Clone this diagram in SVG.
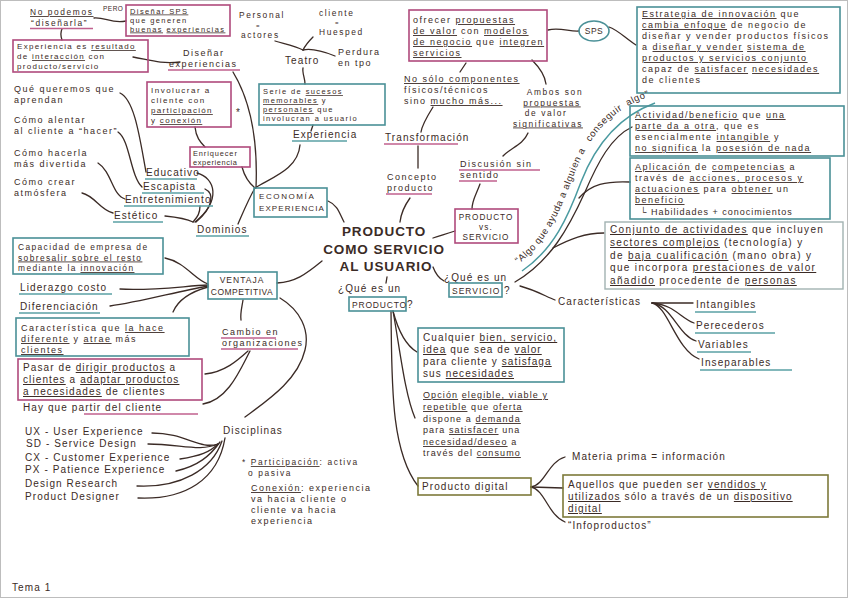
<svg xmlns="http://www.w3.org/2000/svg" width="848" height="598" viewBox="0 0 848 598">
<defs>
<style>
.t{font-family:"Liberation Sans",Arial,sans-serif;font-size:10px;fill:#3b2b26;letter-spacing:1.1px}
.f9{font-size:9px;letter-spacing:1.5px}
.f85{font-size:8.4px;letter-spacing:1.6px}
.f8{font-size:8px;letter-spacing:1.3px}
.f75{font-size:7.5px;letter-spacing:1.4px}
.ttl{font-size:13.5px;font-weight:bold;letter-spacing:0.9px;text-anchor:middle}
.al{font-size:9.5px;letter-spacing:0.6px}
.m{text-anchor:middle}
.u{text-decoration:underline}
.bp{fill:none;stroke:#b04a7c;stroke-width:1.6}
.bt{fill:none;stroke:#4a9097;stroke-width:1.6}
.bo{fill:none;stroke:#7d7a3a;stroke-width:1.6}
.bg{fill:none;stroke:#a2b2b1;stroke-width:1.4}
.ut{stroke:#5aa0a5;stroke-width:1.4;fill:none}
.up{stroke:#c0608e;stroke-width:1.4;fill:none}
.c{fill:none;stroke:#3b2b26;stroke-width:1.3;stroke-linecap:round}
.tl{fill:none;stroke:#4a9aa0;stroke-width:1.5}
</style>
<path id="algoPath" d="M518,264 C549,242 561,208 574,175 C588,138 610,109 651,96"/>
</defs>
<rect x="0" y="0" width="848" height="598" fill="#ffffff"/>
<rect x="0.5" y="0.5" width="847" height="597" fill="none" stroke="#bdbdbd" stroke-width="1"/>

<g id="connectors">
<path class="c" d="M62,29 C60,33 61,37 62,40"/>
<path class="c" d="M94,18 C105,17 112,24 126,21"/>
<path class="c" d="M133,57 C150,60 160,64 180,62"/>
<path class="c" d="M233,72 C250,100 258,140 256,188"/>
<path class="c" d="M120,93 C135,100 140,140 146,172"/>
<path class="c" d="M118,132 C130,140 130,175 142,187"/>
<path class="c" d="M98,163 C112,172 112,195 125,199"/>
<path class="c" d="M82,193 C95,196 100,210 113,213"/>
<path class="c" d="M197,173 C215,178 222,200 195,222"/>
<path class="c" d="M205,189 C214,193 214,207 196,222"/>
<path class="c" d="M200,206 C200,215 196,218 193,222"/>
<path class="c" d="M165,216 C175,217 185,218 193,222"/>
<path class="c" d="M195,127 C196,137 200,142 205,147"/>
<path class="c" d="M242,167 C245,178 250,184 255,188"/>
<path class="c" d="M255,188 C248,200 242,215 238,224"/>
<path class="c" d="M300,145 C298,170 270,178 255,188"/>
<path class="c" d="M275,41 C285,44 295,46 303,50"/>
<path class="c" d="M313,37 C308,42 305,46 303,50"/>
<path class="c" d="M335,56 C325,52 312,48 303,50"/>
<path class="c" d="M303,68 C302,73 305,78 305,84"/>
<path class="c" d="M313,125 L311,131"/>
<path class="c" d="M328,201 C338,205 340,215 344,222"/>
<path class="c" d="M466,63 L460,72"/>
<path class="c" d="M433,107 C428,115 422,125 421,132"/>
<path class="c" d="M418,146 L418,168"/>
<path class="c" d="M410,198 C405,205 401,213 400,222"/>
<path class="c" d="M548,30 C560,27 570,32 579,31"/>
<path class="c" d="M609,27 C618,30 625,38 636,45"/>
<path class="c" d="M532,60 C540,68 545,76 546,84"/>
<path class="c" d="M528,133 C523,145 510,148 503,156"/>
<path class="c" d="M480,184 C476,195 472,200 472,209"/>
<path class="c" d="M455,231 C445,234 440,236 433,238"/>
<path class="c" d="M433,267 C436,275 440,279 444,281"/>
<path class="c" d="M520,286 C535,290 545,296 555,300"/>
<path class="tl" d="M522,271 C554,249 568,217 581,182 C595,146 617,117 655,103"/>
<path class="c" d="M515,282 C551,261 569,227 585,192 C598,162 611,137 632,127"/>
<path class="c" d="M579,198 C591,184 606,181 630,182"/>
<path class="c" d="M553,248 C570,239 585,233 604,233"/>
<path class="c" d="M652,303 L693,303"/>
<path class="c" d="M652,303 C675,305 680,318 694,323"/>
<path class="c" d="M652,303 C672,306 678,335 696,341"/>
<path class="c" d="M652,303 C668,306 676,350 699,359"/>
<path class="c" d="M322,261 C305,275 295,282 277,283"/>
<path class="c" d="M165,258 C185,262 195,280 208,284"/>
<path class="c" d="M120,289 C150,291 185,286 208,285"/>
<path class="c" d="M110,306 C140,302 175,292 208,286"/>
<path class="c" d="M208,287 C190,292 178,300 173,312"/>
<path class="c" d="M243,300 C242,307 240,313 241,320"/>
<path class="c" d="M248,351 C238,360 225,372 205,374"/>
<path class="c" d="M250,351 C240,370 228,400 203,404"/>
<path class="c" d="M280,298 C300,310 310,330 305,350 C298,380 268,400 245,417"/>
<path class="c" d="M152,433 C185,433 200,450 218,444"/>
<path class="c" d="M148,444 C180,444 200,452 218,444"/>
<path class="c" d="M180,459 C200,456 210,452 218,444"/>
<path class="c" d="M176,471 C198,466 210,456 220,442"/>
<path class="c" d="M137,486 C180,488 212,470 222,441"/>
<path class="c" d="M138,498 C185,500 218,480 225,438"/>
<path class="c" d="M387,277 L386,283"/>
<path class="c" d="M393,311 C398,330 405,345 417,352"/>
<path class="c" d="M393,311 C400,350 405,395 415,418"/>
<path class="c" d="M391,311 C392,380 390,450 418,486"/>
<path class="c" d="M531,487 C545,485 548,462 565,457"/>
<path class="c" d="M531,487 L563,488"/>
<path class="c" d="M531,487 C545,490 548,515 565,522"/>
</g>

<g id="n-title">
<text class="t ttl" x="384" y="236">PRODUCTO</text>
<text class="t ttl" x="384" y="254">COMO SERVICIO</text>
<text class="t ttl" x="386" y="271">AL USUARIO</text>
</g>

<g id="n-no-podemos">
<text class="t f85" x="30" y="15"><tspan class="u">No podemos</tspan></text>
<text class="t f85" x="31" y="25.5">“diseñarla”</text>
<line class="up" x1="30" y1="28.5" x2="93" y2="28.5"/>
</g>
<g id="n-pero"><text class="t" x="103" y="11" style="font-size:6.5px;letter-spacing:0.5px">PERO</text></g>
<g id="n-disenar-sps">
<rect class="bp" x="126" y="5" width="104" height="31"/>
<text class="t f75" x="130" y="13.5"><tspan class="u">Diseñar SPS</tspan></text>
<text class="t f75" x="130" y="22.5">que generen</text>
<text class="t f75" x="130" y="31.5"><tspan class="u">buenas</tspan> <tspan class="u">experiencias</tspan></text>
</g>
<g id="n-exp-resultado">
<rect class="bp" x="13" y="40" width="135" height="32"/>
<text class="t f8" x="17" y="49">Experiencia es <tspan class="u">resultado</tspan></text>
<text class="t f8" x="17" y="59">de <tspan class="u">interacción</tspan> con</text>
<text class="t f8" x="17" y="69">producto/servicio</text>
</g>
<g id="n-disenar-exp">
<text class="t f9" x="183" y="56">Diseñar</text>
<text class="t f9" x="169" y="67">experiencias</text>
<line class="up" x1="168" y1="70" x2="240" y2="70"/>
</g>
<g id="n-q1"><text class="t f9" x="14" y="92">Qué queremos que</text><text class="t f9" x="14" y="103">aprendan</text></g>
<g id="n-q2"><text class="t f9" x="14" y="123">Cómo alentar</text><text class="t f9" x="14" y="134">al cliente a “hacer”</text></g>
<g id="n-q3"><text class="t f9" x="14" y="156">Cómo hacerla</text><text class="t f9" x="14" y="167">más divertida</text></g>
<g id="n-q4"><text class="t f9" x="14" y="185">Cómo crear</text><text class="t f9" x="14" y="196">atmósfera</text></g>
<g id="n-educativo"><text class="t" x="146" y="176">Educativo</text><line class="ut" x1="145" y1="179" x2="197" y2="179"/></g>
<g id="n-escapista"><text class="t" x="143" y="190">Escapista</text><line class="ut" x1="142" y1="193" x2="204" y2="193"/></g>
<g id="n-entretenimiento"><text class="t" x="125" y="203">Entretenimiento</text><line class="ut" x1="124" y1="206" x2="213" y2="206"/></g>
<g id="n-estetico"><text class="t" x="114" y="219">Estético</text><line class="ut" x1="113" y1="222" x2="163" y2="222"/></g>
<g id="n-dominios"><text class="t" x="197" y="233">Dominios</text><line class="ut" x1="196" y1="236" x2="249" y2="236"/></g>
<g id="n-involucrar">
<rect class="bp" x="147" y="82" width="84" height="45"/>
<text class="t f8" x="151" y="93" style="letter-spacing:1.5px">Involucrar a</text>
<text class="t f8" x="151" y="103" style="letter-spacing:1.5px">cliente con</text>
<text class="t f8" x="151" y="113"><tspan class="u">participación</tspan></text>
<text class="t f8" x="151" y="123">y <tspan class="u">conexión</tspan></text>
</g>
<g id="n-star"><text class="t" x="236" y="116">*</text></g>
<g id="n-enriquecer">
<rect class="bp" x="190" y="147" width="60" height="20"/>
<text class="t" x="193" y="156" style="font-size:7.4px;letter-spacing:0.9px">Enriquecer</text>
<text class="t" x="193" y="165" style="font-size:7.4px;letter-spacing:0.6px">experiencia</text>
</g>
<g id="n-economia">
<rect class="bt" x="254" y="188" width="73" height="29"/>
<text class="t f8" x="259" y="199" style="letter-spacing:1.6px">ECONOMÍA</text>
<text class="t f8" x="259" y="211" style="letter-spacing:1.1px">EXPERIENCIA</text>
</g>
<g id="n-personal"><text class="t f85" x="239" y="18">Personal</text><text class="t" x="256" y="28" style="font-size:6px">=</text><text class="t f85" x="241" y="38">actores</text></g>
<g id="n-cliente"><text class="t f85" x="319" y="16">cliente</text><text class="t" x="335" y="25" style="font-size:6px">=</text><text class="t f85" x="319" y="35">Huesped</text></g>
<g id="n-teatro"><text class="t" x="285" y="64">Teatro</text></g>
<g id="n-perdura"><text class="t f9" x="338" y="55">Perdura</text><text class="t f9" x="338" y="66">en tpo</text></g>
<g id="n-serie">
<rect class="bt" x="259" y="84" width="126" height="41"/>
<text class="t f75" x="263" y="94">Serie de <tspan class="u">sucesos</tspan></text>
<text class="t f75" x="263" y="103"><tspan class="u">memorables</tspan> y</text>
<text class="t f75" x="263" y="112"><tspan class="u">personales</tspan> que</text>
<text class="t f75" x="263" y="121">involucran a usuario</text>
</g>
<g id="n-experiencia"><text class="t" x="293" y="138">Experiencia</text><line class="ut" x1="292" y1="141" x2="347" y2="141"/></g>
<g id="n-ofrecer">
<rect class="bp" x="409" y="10" width="138" height="51"/>
<text class="t f9" x="413" y="23">ofrecer <tspan class="u">propuestas</tspan></text>
<text class="t f9" x="413" y="34"><tspan class="u">de valor</tspan> con <tspan class="u">modelos</tspan></text>
<text class="t f9" x="413" y="45"><tspan class="u">de negocio</tspan> que <tspan class="u">integren</tspan></text>
<text class="t f9" x="413" y="56"><tspan class="u">servicios</tspan></text>
</g>
<g id="n-nosolo">
<text class="t f9" x="404" y="82"><tspan class="u">No sólo componentes</tspan></text>
<text class="t f9" x="404" y="93">físicos/técnicos</text>
<text class="t f9" x="404" y="104">sino <tspan class="u">mucho más...</tspan></text>
</g>
<g id="n-transformacion"><text class="t" x="385" y="141">Transformación</text><line class="up" x1="384" y1="144" x2="458" y2="144"/></g>
<g id="n-concepto"><text class="t f9" x="387" y="180">Concepto</text><text class="t f9" x="387" y="191">producto</text><line class="up" x1="386" y1="194" x2="432" y2="194"/></g>
<g id="n-sps"><ellipse class="bt" cx="594" cy="31" rx="15" ry="10"/><text class="t m" x="594" y="34" style="font-size:8.5px;letter-spacing:0.5px">SPS</text></g>
<g id="n-sps-desc">
<rect class="bt" x="637" y="7" width="203" height="86"/>
<text class="t f9" x="642" y="17"><tspan class="u">Estrategia de innovación</tspan> que</text>
<text class="t f9" x="642" y="28"><tspan class="u">cambia enfoque</tspan> de negocio de</text>
<text class="t f9" x="642" y="39">diseñar y vender productos físicos</text>
<text class="t f9" x="642" y="50">a <tspan class="u">diseñar y vender</tspan> <tspan class="u">sistema de</tspan></text>
<text class="t f9" x="642" y="61"><tspan class="u">productos y servicios conjunto</tspan></text>
<text class="t f9" x="642" y="72">capaz de <tspan class="u">satisfacer</tspan> <tspan class="u">necesidades</tspan></text>
<text class="t f9" x="642" y="83">de clientes</text>
</g>
<g id="n-ambos">
<text class="t f85 m" x="555" y="95">Ambos son</text>
<text class="t f85 m" x="552" y="105.5"><tspan class="u">propuestas</tspan></text>
<text class="t f85 m" x="546" y="116">de valor</text>
<text class="t f85 m" x="548" y="126.5"><tspan class="u">significativas</tspan></text>
</g>
<g id="n-discusion"><text class="t f9" x="460" y="167">Discusión sin</text><line class="up" x1="459" y1="170" x2="540" y2="170"/><text class="t f9" x="460" y="178">sentido</text><line class="up" x1="459" y1="181" x2="497" y2="181"/></g>
<g id="n-pvs">
<rect class="bp" x="455" y="209" width="63" height="34"/>
<text class="t m" x="486" y="220" style="font-size:8.2px;letter-spacing:1px">PRODUCTO</text>
<text class="t m" x="486" y="230" style="font-size:8.2px">vs.</text>
<text class="t m" x="486" y="240" style="font-size:8.2px;letter-spacing:1px">SERVICIO</text>
</g>
<g id="n-algo">
<text class="t al"><textPath href="#algoPath" startOffset="0">“Algo</textPath></text>
<text class="t al"><textPath href="#algoPath" startOffset="28.4">que</textPath></text>
<text class="t al"><textPath href="#algoPath" startOffset="49.3">ayuda</textPath></text>
<text class="t al"><textPath href="#algoPath" startOffset="81.4">a</textPath></text>
<text class="t al"><textPath href="#algoPath" startOffset="90.5">alguien a</textPath></text>
<text class="t al"><textPath href="#algoPath" startOffset="143.6">conseguir</textPath></text>
<text class="t al"><textPath href="#algoPath" startOffset="196">algo”</textPath></text>
</g>
<g id="n-actividad">
<rect class="bt" x="630" y="106" width="214" height="50"/>
<text class="t f9" x="635" y="118"><tspan class="u">Actividad/beneficio</tspan> que <tspan class="u">una</tspan></text>
<text class="t f9" x="635" y="129"><tspan class="u">parte da a otra</tspan>, que es</text>
<text class="t f9" x="635" y="140">esencialmente <tspan class="u">intangible</tspan> y</text>
<text class="t f9" x="635" y="151"><tspan class="u">no significa</tspan> la <tspan class="u">posesión de nada</tspan></text>
</g>
<g id="n-aplicacion">
<rect class="bt" x="630" y="158" width="200" height="61"/>
<text class="t f9" x="635" y="170"><tspan class="u">Aplicación</tspan> de <tspan class="u">competencias</tspan> a</text>
<text class="t f9" x="635" y="181">través de <tspan class="u">acciones, procesos y</tspan></text>
<text class="t f9" x="635" y="192"><tspan class="u">actuaciones</tspan> para <tspan class="u">obtener</tspan> un</text>
<text class="t f9" x="635" y="203"><tspan class="u">beneficio</tspan></text>
<text class="t f9" x="640" y="215" style="letter-spacing:1px">└ Habilidades + conocimientos</text>
</g>
<g id="n-conjunto">
<rect class="bg" x="605" y="222" width="238" height="67"/>
<text class="t" x="610" y="233" style="letter-spacing:1.35px"><tspan class="u">Conjunto de actividades</tspan> que incluyen</text>
<text class="t" x="610" y="246" style="letter-spacing:1.35px"><tspan class="u">sectores complejos</tspan> (tecnología) y</text>
<text class="t" x="610" y="259" style="letter-spacing:1.35px">de <tspan class="u">baja cualificación</tspan> (mano obra) y</text>
<text class="t" x="610" y="271" style="letter-spacing:1.35px">que incorpora <tspan class="u">prestaciones de valor</tspan></text>
<text class="t" x="610" y="284" style="letter-spacing:1.35px"><tspan class="u">añadido</tspan> procedente de <tspan class="u">personas</tspan></text>
</g>
<g id="n-que-servicio">
<text class="t" x="444" y="281">¿Qué es un</text>
<rect class="bt" x="449" y="283" width="53" height="14"/>
<text class="t" x="452" y="294" style="font-size:8.5px;letter-spacing:1px">SERVICIO</text>
<text class="t" x="504" y="294">?</text>
</g>
<g id="n-caracteristicas"><text class="t" x="558" y="305">Características</text></g>
<g id="n-intangibles"><text class="t" x="696" y="308">Intangibles</text><line class="ut" x1="695" y1="312" x2="756" y2="312"/></g>
<g id="n-perecederos"><text class="t" x="696" y="329">Perecederos</text><line class="ut" x1="695" y1="333" x2="775" y2="333"/></g>
<g id="n-variables"><text class="t" x="698" y="348">Variables</text><line class="ut" x1="697" y1="352" x2="751" y2="352"/></g>
<g id="n-inseparables"><text class="t" x="701" y="366">Inseparables</text><line class="ut" x1="700" y1="370" x2="792" y2="370"/></g>
<g id="n-capacidad">
<rect class="bt" x="13" y="238" width="150" height="36"/>
<text class="t" x="18" y="250" style="font-size:8.4px;letter-spacing:1.4px">Capacidad de empresa de</text>
<text class="t" x="18" y="260.5" style="font-size:8.4px;letter-spacing:1.4px"><tspan class="u">sobresalir sobre el resto</tspan></text>
<text class="t" x="18" y="271" style="font-size:8.4px;letter-spacing:1.4px">mediante la <tspan class="u">innovación</tspan></text>
</g>
<g id="n-liderazgo"><text class="t" x="20" y="291">Liderazgo costo</text><line class="ut" x1="19" y1="294" x2="112" y2="294"/></g>
<g id="n-diferenciacion"><text class="t" x="20" y="310">Diferenciación</text><line class="ut" x1="19" y1="313" x2="100" y2="313"/></g>
<g id="n-ventaja">
<rect class="bt" x="208" y="272" width="69" height="27"/>
<text class="t m" x="242" y="283" style="font-size:8.5px;letter-spacing:1px">VENTAJA</text>
<text class="t m" x="242" y="295" style="font-size:8.5px;letter-spacing:0.5px">COMPETITIVA</text>
</g>
<g id="n-caracteristica">
<rect class="bt" x="16" y="318" width="173" height="38"/>
<text class="t f9" x="21" y="331">Característica que <tspan class="u">la hace</tspan></text>
<text class="t f9" x="21" y="342"><tspan class="u">diferente</tspan> y <tspan class="u">atrae</tspan> más</text>
<text class="t f9" x="21" y="353"><tspan class="u">clientes</tspan></text>
</g>
<g id="n-cambio"><text class="t f9" x="222" y="335">Cambio en</text><line class="up" x1="221" y1="338" x2="276" y2="338"/><text class="t f9" x="222" y="346">organizaciones</text><line class="up" x1="221" y1="349" x2="298" y2="349"/></g>
<g id="n-pasar">
<rect class="bp" x="18" y="359" width="184" height="41"/>
<text class="t" x="23" y="371">Pasar de <tspan class="u">dirigir productos</tspan> a</text>
<text class="t" x="23" y="383"><tspan class="u">clientes</tspan> a <tspan class="u">adaptar productos</tspan></text>
<text class="t" x="23" y="395"><tspan class="u">a necesidades</tspan> de clientes</text>
</g>
<g id="n-hay"><text class="t" x="23" y="411">Hay que partir del cliente</text><line class="up" x1="84" y1="414" x2="198" y2="414"/></g>
<g id="n-disciplinas"><text class="t" x="223" y="434">Disciplinas</text></g>
<g id="n-ux"><text class="t" x="25" y="435">UX - User Experience</text></g>
<g id="n-sd"><text class="t" x="26" y="447">SD - Service Design</text></g>
<g id="n-cx"><text class="t" x="25" y="461">CX - Customer Experience</text></g>
<g id="n-px"><text class="t" x="25" y="473">PX - Patience Experience</text></g>
<g id="n-dr"><text class="t" x="25" y="487">Design Research</text></g>
<g id="n-pd"><text class="t" x="25" y="500">Product Designer</text></g>
<g id="n-participacion">
<text class="t f85" x="242" y="465">* <tspan class="u">Participación</tspan>: activa</text>
<text class="t f85" x="248" y="475.5">o pasiva</text>
</g>
<g id="n-conexion">
<text class="t f9" x="251" y="491"><tspan class="u">Conexión</tspan>: experiencia</text>
<text class="t f9" x="251" y="502">va hacia cliente o</text>
<text class="t f9" x="251" y="513">cliente va hacia</text>
<text class="t f9" x="251" y="524">experiencia</text>
</g>
<g id="n-que-producto">
<text class="t" x="338" y="292">¿Qué es un</text>
<rect class="bt" x="349" y="297" width="57" height="14"/>
<text class="t" x="352" y="308" style="font-size:8.5px;letter-spacing:0.8px">PRODUCTO</text>
<text class="t" x="407" y="308">?</text>
</g>
<g id="n-cualquier">
<rect class="bt" x="418" y="328" width="146" height="54"/>
<text class="t" x="423" y="341">Cualquier <tspan class="u">bien, servicio,</tspan></text>
<text class="t" x="423" y="353"><tspan class="u">idea</tspan> que sea de <tspan class="u">valor</tspan></text>
<text class="t" x="423" y="365">para cliente y <tspan class="u">satisfaga</tspan></text>
<text class="t" x="423" y="377">sus <tspan class="u">necesidades</tspan></text>
</g>
<g id="n-opcion">
<text class="t f9" x="423" y="398" style="letter-spacing:1.1px"><tspan class="u">Opción</tspan> <tspan class="u">elegible, viable y</tspan></text>
<text class="t f9" x="423" y="410" style="letter-spacing:1.1px"><tspan class="u">repetible</tspan> que <tspan class="u">oferta</tspan></text>
<text class="t f9" x="423" y="422" style="letter-spacing:1.1px">dispone a <tspan class="u">demanda</tspan></text>
<text class="t f9" x="423" y="433" style="letter-spacing:1.1px">para <tspan class="u">satisfacer</tspan> una</text>
<text class="t f9" x="423" y="445" style="letter-spacing:1.1px"><tspan class="u">necesidad/deseo</tspan> a</text>
<text class="t f9" x="423" y="456" style="letter-spacing:1.1px">través del <tspan class="u">consumo</tspan></text>
</g>
<g id="n-prod-digital">
<rect class="bo" x="418" y="478" width="113" height="17"/>
<text class="t" x="422" y="490">Producto digital</text>
</g>
<g id="n-materia"><text class="t" x="572" y="460">Materia prima = información</text></g>
<g id="n-aquellos">
<rect class="bo" x="563" y="475" width="265" height="42"/>
<text class="t" x="568" y="488">Aquellos que pueden ser <tspan class="u">vendidos y</tspan></text>
<text class="t" x="568" y="500"><tspan class="u">utilizados</tspan> sólo a través de un <tspan class="u">dispositivo</tspan></text>
<text class="t" x="568" y="512"><tspan class="u">digital</tspan></text>
</g>
<g id="n-infoproductos"><text class="t" x="568" y="529">“Infoproductos”</text></g>
<g id="n-tema"><text class="t" x="12" y="591">Tema 1</text></g>
</svg>
